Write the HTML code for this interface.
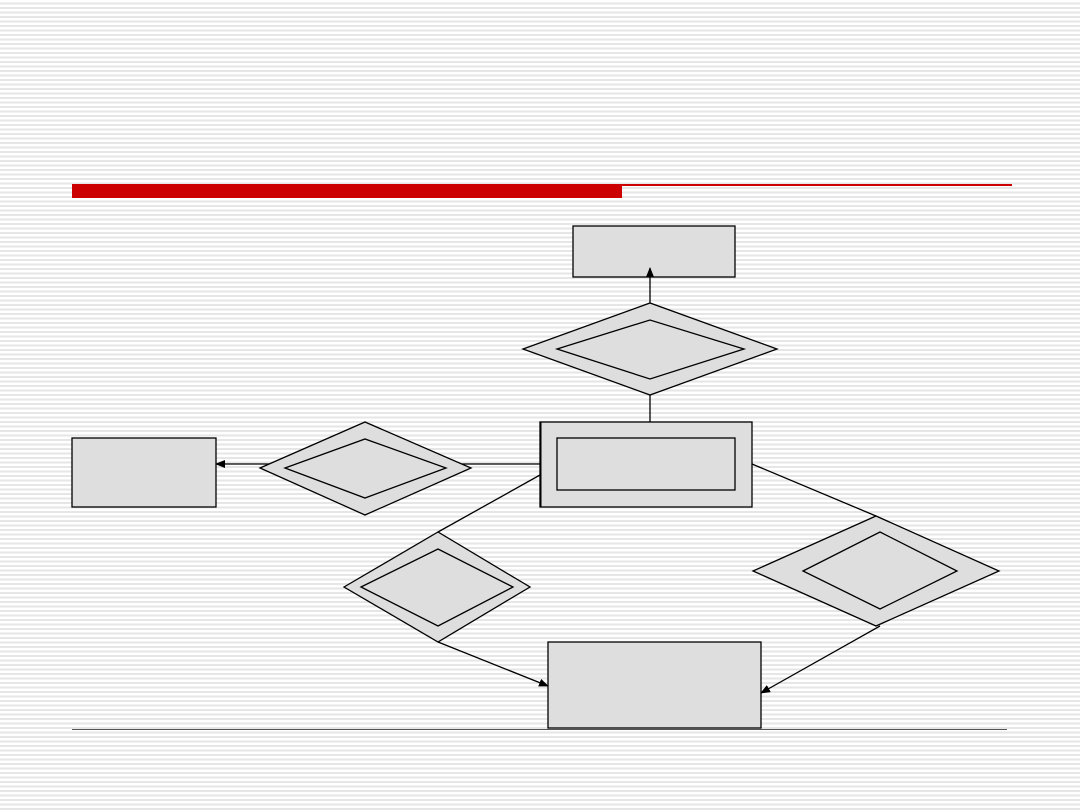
<!DOCTYPE html>
<html><head><style>
html,body{margin:0;padding:0}
body{width:1080px;height:810px;overflow:hidden;background:#fff repeating-linear-gradient(to bottom,#fff 0,#fff 2.5px,#e6e6e6 2.5px,#e6e6e6 4.5px);font-family:"Liberation Sans",sans-serif}
</style></head><body>
<svg width="1080" height="810" style="position:absolute;left:0;top:0">
<defs><marker id="a" markerWidth="10" markerHeight="8" refX="9" refY="4" orient="auto" markerUnits="userSpaceOnUse"><path d="M0,0 L10,4 L0,8z" fill="#000"/></marker></defs>
<rect x="72" y="184" width="550" height="14" fill="#cc0000"/>
<rect x="622" y="184" width="390" height="2" fill="#cc0000"/>
<line x1="72" y1="729.5" x2="1007" y2="729.5" stroke="#555" stroke-width="1"/>
<g stroke="#000" stroke-width="1.3" fill="#dedede">
<line x1="650" y1="395" x2="650" y2="422"/>
<line x1="540" y1="464" x2="216" y2="464" marker-end="url(#a)"/>
<line x1="540" y1="475" x2="438" y2="532"/>
<line x1="752" y1="464" x2="876" y2="516"/>
<line x1="438" y1="642" x2="548" y2="686" marker-end="url(#a)"/>
<line x1="880" y1="626" x2="761" y2="693" marker-end="url(#a)"/>
<rect x="573" y="226" width="162" height="51"/>
<polygon points="523,349 650,303 777,349 650,395"/>
<polygon points="557,349 650,320 744,349 650,379"/>
<rect x="540" y="422" width="212" height="85"/>
<line x1="540.5" y1="422" x2="540.5" y2="507" stroke-width="2"/>
<rect x="557" y="438" width="178" height="52"/>
<rect x="72" y="438" width="144" height="69"/>
<polygon points="260,468 365,422 471,468 365,515"/>
<polygon points="285,468 365,439 446,468 365,498"/>
<polygon points="344,587 438,532 530,587 438,642"/>
<polygon points="361,587 438,549 513,587 438,626"/>
<polygon points="753,571 876,516 999,571 876,626"/>
<polygon points="803,571 880,532 957,571 880,609"/>
<rect x="548" y="642" width="213" height="86"/>
<line x1="650" y1="303" x2="650" y2="268" marker-end="url(#a)"/>
</g>
</svg>
</body></html>
